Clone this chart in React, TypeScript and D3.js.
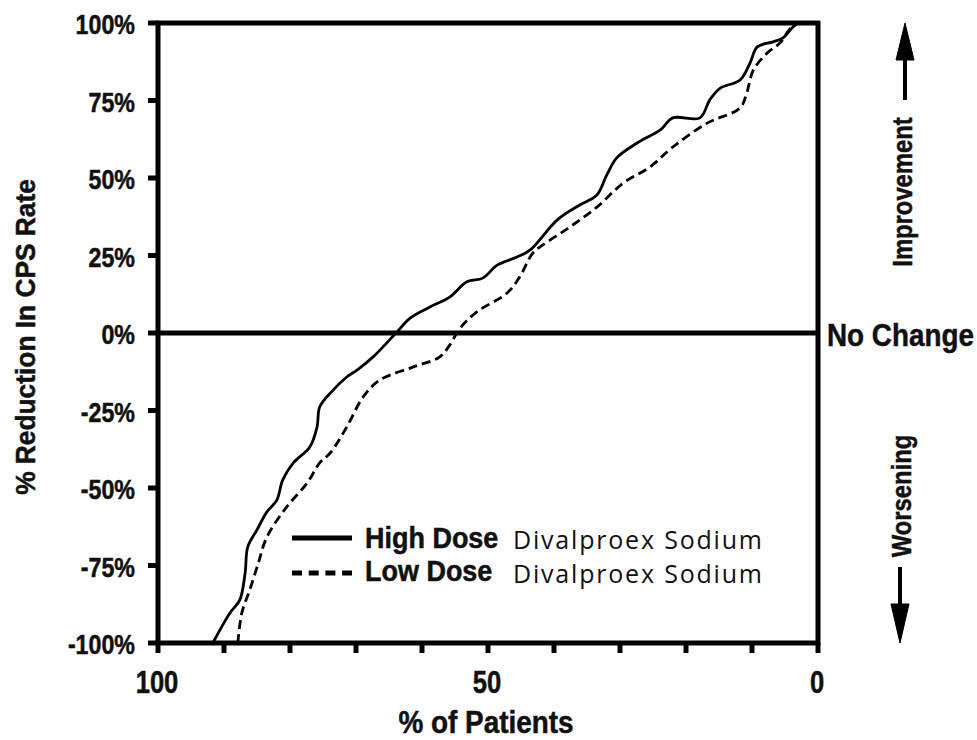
import React from 'react';
import * as d3 from 'd3';

// % of patients (x, reversed axis) vs % reduction in CPS rate (y)
const highX = [91.7, 89.1, 87.6, 86.8, 86.4, 85.0, 83.5, 82.0, 81.1, 79.5, 77.0, 75.9, 75.5, 73.9, 71.4, 69.8, 67.4, 63.8, 61.8, 58.8, 55.8, 53.2, 50.8, 48.6, 45.6, 43.6, 39.5, 36.1, 33.5, 32.0, 30.5, 27.4, 23.9, 22.0, 17.9, 16.4, 14.8, 11.8, 10.3, 9.2, 6.8, 5.3, 3.8, 3.0];
const highY = [-100, -90.3, -86.1, -77.4, -69.0, -63.5, -57.7, -53.9, -47.4, -41.9, -36.8, -30.3, -23.9, -19.4, -14.2, -11.9, -7.7, 0.3, 4.8, 8.4, 11.6, 16.5, 17.7, 21.9, 24.5, 26.8, 36.5, 41.3, 44.5, 51.0, 56.5, 61.3, 65.5, 69.4, 69.4, 75.2, 79.0, 81.6, 87.1, 92.3, 93.9, 95.2, 98.7, 100];

const lowX = [87.9, 87.3, 86.1, 84.8, 83.5, 80.5, 77.4, 75.5, 73.9, 71.4, 68.9, 66.4, 61.4, 57.3, 55.8, 54.2, 51.7, 47.1, 45.2, 43.2, 41.7, 37.6, 33.5, 29.5, 25.5, 22.0, 16.8, 11.8, 10.8, 9.8, 7.7, 5.8, 4.7, 3.8];
const lowY = [-100, -90.3, -82.9, -74.2, -65.8, -56.1, -48.4, -41.9, -38.7, -30.3, -20.6, -15.2, -11.0, -7.7, -3.9, 1.6, 6.8, 12.9, 18.1, 25.8, 28.4, 34.2, 40.6, 48.4, 53.5, 60.0, 67.7, 72.6, 77.4, 84.8, 90.3, 93.5, 96.8, 99.4];

const yTicks = [100, 75, 50, 25, 0, -25, -50, -75, -100];
const xTicks = [100, 90, 80, 70, 60, 50, 40, 30, 20, 10, 0];
const xLabels = [100, 50, 0];

const bold = "'Liberation Sans', Arial, sans-serif";
const plain = "'Open Sans', 'DejaVu Sans', sans-serif";

// condensed bold text: normal font squeezed horizontally
function Cond(props: { x: number; y: number; size: number; sx: number; anchor?: string; rot?: number; children: any }) {
  const { x, y, size, sx, anchor = 'start', rot = 0, children } = props;
  return (
    <text
      transform={`translate(${x},${y}) rotate(${rot}) scale(${sx},1)`}
      fontFamily={bold}
      fontWeight="bold"
      fontSize={size}
      textAnchor={anchor}
      fill="#111"
      stroke="#111"
      strokeWidth={0.5}
    >
      {children}
    </text>
  );
}

export default function App() {
  const width = 977;
  const height = 740;
  const left = 158, right = 818, top = 23, bottom = 643;

  const x = d3.scaleLinear().domain([100, 0]).range([left, right]);
  const y = d3.scaleLinear().domain([-100, 100]).range([bottom, top]);

  const line = d3.line<[number, number]>().x(d => x(d[0])).y(d => y(d[1])).curve(d3.curveCatmullRom);
  const highPath = line(highX.map((v, i) => [v, highY[i]] as [number, number])) || '';
  const lowPath = line(lowX.map((v, i) => [v, lowY[i]] as [number, number])) || '';

  return (
    <svg width={width} height={height} style={{ position: 'absolute', left: 0, top: 0, background: '#fff' }}>
      {/* frame */}
      <g stroke="#000" strokeWidth={5} fill="none">
        <line x1={left - 2} x2={right + 2} y1={top} y2={top} />
        <line x1={left - 2} x2={right + 2} y1={bottom} y2={bottom} />
        <line x1={left} x2={left} y1={top - 2} y2={bottom + 2} />
        <line x1={right} x2={right} y1={top - 2} y2={bottom + 2} />
        <line x1={left} x2={right} y1={y(0)} y2={y(0)} />
      </g>

      {/* y ticks */}
      {yTicks.map(t => (
        <g key={t}>
          <line x1={left - 10} x2={left} y1={y(t)} y2={y(t)} stroke="#000" strokeWidth={5} />
          <Cond x={135} y={y(t) + 11} size={27} sx={0.86} anchor="end">{t}%</Cond>
        </g>
      ))}

      {/* x ticks */}
      {xTicks.map(t => (
        <line key={t} x1={x(t)} x2={x(t)} y1={bottom} y2={bottom + 10} stroke="#000" strokeWidth={5} />
      ))}
      {xLabels.map(t => (
        <Cond key={t} x={x(t) - 1} y={693} size={32} sx={0.8} anchor="middle">{t}</Cond>
      ))}
      <Cond x={486} y={733} size={31} sx={0.9} anchor="middle">% of Patients</Cond>
      <Cond x={35} y={337} size={28} sx={0.94} anchor="middle" rot={-90}>% Reduction In CPS Rate</Cond>

      {/* curves */}
      <path d={highPath} fill="none" stroke="#000" strokeWidth={2.8} />
      <path d={lowPath} fill="none" stroke="#000" strokeWidth={2.8} strokeDasharray="9 5" />

      {/* legend */}
      <line x1={292} x2={352} y1={538} y2={538} stroke="#000" strokeWidth={5} />
      <line x1={292} x2={352} y1={573} y2={573} stroke="#000" strokeWidth={5} strokeDasharray="10 6.7" />
      <Cond x={365} y={548} size={29} sx={0.93}>High Dose</Cond>
      <Cond x={365} y={581} size={29} sx={0.93}>Low Dose</Cond>
      <g fontFamily={plain} fontSize={25} fill="#111">
        <text x={513} y={549} textLength={249} lengthAdjust="spacing">Divalproex Sodium</text>
        <text x={513} y={583} textLength={249} lengthAdjust="spacing">Divalproex Sodium</text>
      </g>

      {/* right annotations */}
      <Cond x={827} y={346} size={32} sx={0.87}>No Change</Cond>
      <Cond x={912} y={192} size={28} sx={0.85} anchor="middle" rot={-90}>Improvement</Cond>
      <Cond x={911} y={496} size={28} sx={0.85} anchor="middle" rot={-90}>Worsening</Cond>
      <g fill="#000" stroke="#000">
        <line x1={905} x2={905} y1={100} y2={55} strokeWidth={4} />
        <path d="M905,23 L896,60 L914,60 Z" strokeWidth={1} />
        <line x1={900} x2={900} y1={567} y2={605} strokeWidth={4} />
        <path d="M900,643 L891,604 L909,604 Z" strokeWidth={1} />
      </g>
    </svg>
  );
}
